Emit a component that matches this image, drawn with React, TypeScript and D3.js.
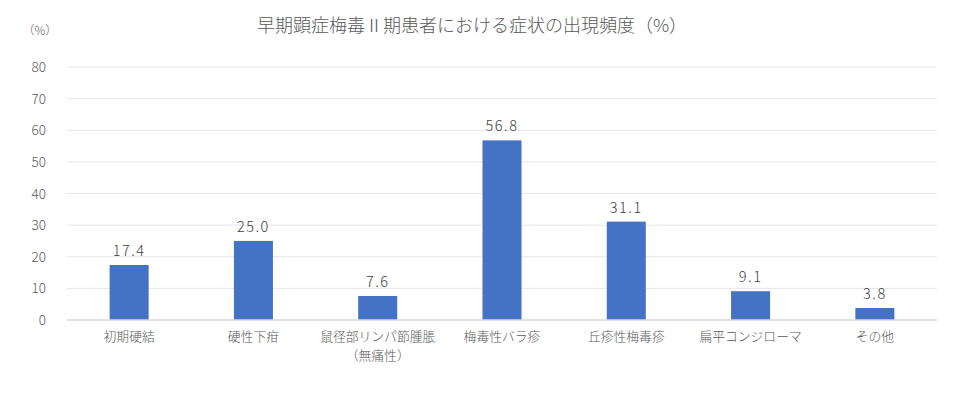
import React from "react";
import * as d3 from "d3";

const categories = ["初期硬結", "硬性下疳", "鼠径部リンパ節腫脹\n（無痛性）", "梅毒性バラ疹", "丘疹性梅毒疹", "扁平コンジローマ", "その他"];
const values = [17.4, 25.0, 7.6, 56.8, 31.1, 9.1, 3.8];
const yTicks = [0, 10, 20, 30, 40, 50, 60, 70, 80];
const title = "早期顕症梅毒Ⅱ期患者における症状の出現頻度（%）";
const unitLabel = "（%）";

const W = 954, H = 410;
const left = 67, right = 937, top = 67, bottom = 320;
const font = "'Noto Sans CJK JP', 'Noto Sans', sans-serif";

export default function App() {
  const x = d3.scaleBand<string>().domain(categories).range([left, right]).paddingInner(0.686).paddingOuter(0.343);
  const y = d3.scaleLinear().domain([0, 80]).range([bottom, top]);
  return (
    <svg width={W} height={H} style={{ position: "absolute", left: 0, top: 0, background: "#fff" }} fontFamily={font} fontWeight={300}>
      <rect width={W} height={H} fill="#fff" />
      <text x={472} y={32} textAnchor="middle" fontSize={18} fill="#595959">{title}</text>
      <text x={40} y={35} textAnchor="middle" fontSize={12} fill="#595959">{unitLabel}</text>
      {yTicks.map((t) => (
        <g key={t}>
          {t !== 0 && <line x1={left} x2={right} y1={y(t)} y2={y(t)} stroke="#e6e6e6" strokeWidth={1} />}
          <text x={46} y={y(t) + 5} textAnchor="end" fontSize={13.5} fill="#595959">{t}</text>
        </g>
      ))}
      {categories.map((c, i) => {
        const bx = x(c)!;
        const bw = x.bandwidth();
        const cx = bx + bw / 2;
        const lines = c.split("\n");
        return (
          <g key={c}>
            <rect x={bx} y={y(values[i])} width={bw} height={y(0) - y(values[i])} fill="#4472c4" />
            <text x={cx} y={y(values[i]) - 9} textAnchor="middle" fontSize={14.5} fill="#404040" letterSpacing={1.5}>{values[i].toFixed(1)}</text>
            {lines.map((l, j) => (
              <text key={j} x={cx} y={341 + j * 19} textAnchor="middle" fontSize={12.8} fill="#595959">{l}</text>
            ))}
          </g>
        );
      })}
      <line x1={left} x2={right} y1={bottom} y2={bottom} stroke="#d9d9d9" strokeWidth={1.5} />
    </svg>
  );
}
